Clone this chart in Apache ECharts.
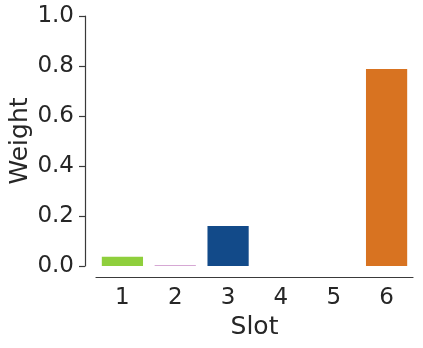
<!DOCTYPE html>
<html><head><meta charset="utf-8">
<script src="https://cdn.jsdelivr.net/npm/echarts@6/dist/echarts.min.js"></script>
<style>html,body{margin:0;padding:0;background:#fff}#c{width:423px;height:348px}</style>
</head><body><div id="c"></div>
<script>
const categories = ['1','2','3','4','5','6'];
const weights = [0.037, 0.004, 0.16, 0, 0, 0.788];
const barColors = ['#8fcf3c', '#d6a8d4', '#124a89', '#999999', '#999999', '#d87321'];
const yTicks = [0, 0.2, 0.4, 0.6, 0.8, 1.0];

const chart = echarts.init(document.getElementById('c'), null, {renderer:'canvas'});
const txt = '#262626';
const font = 'DejaVu Sans';
chart.setOption({
  animation: false,
  backgroundColor: '#ffffff',
  grid: {left: 96, top: 16, width: 317, height: 250, containLabel: false, outerBoundsMode: 'none'},
  xAxis: {
    type: 'category', data: categories, offset: 11,
    name: 'Slot', nameLocation: 'middle', nameGap: 38, nameMoveOverlap: false,
    nameTextStyle: {fontSize: 25, color: txt, fontFamily: font},
    axisLine: {onZero: false, lineStyle: {color: '#3a3a3a', width: 1.2}},
    axisTick: {alignWithLabel: true, length: 6, lineStyle: {color: '#3a3a3a', width: 1.2}},
    axisLabel: {fontSize: 23, color: txt, fontFamily: font, margin: 10}
  },
  yAxis: {
    type: 'value', min: 0, max: 1, interval: 0.2, offset: 11,
    name: 'Weight', nameLocation: 'middle', nameGap: 52, nameMoveOverlap: false,
    nameTextStyle: {fontSize: 25, color: txt, fontFamily: font},
    splitLine: {show: false},
    axisLine: {show: true, lineStyle: {color: '#3a3a3a', width: 1.2}},
    axisTick: {show: true, length: 6, lineStyle: {color: '#3a3a3a', width: 1.2}},
    axisLabel: {fontSize: 23, color: txt, fontFamily: font, margin: 11,
      formatter: v => yTicks.includes(+v.toFixed(1)) ? v.toFixed(1) : ''}
  },
  series: [{
    type: 'bar', barWidth: '78%',
    data: weights.map((v, i) => ({value: v, itemStyle: {color: barColors[i]}}))
  }]
});
</script></body></html>
